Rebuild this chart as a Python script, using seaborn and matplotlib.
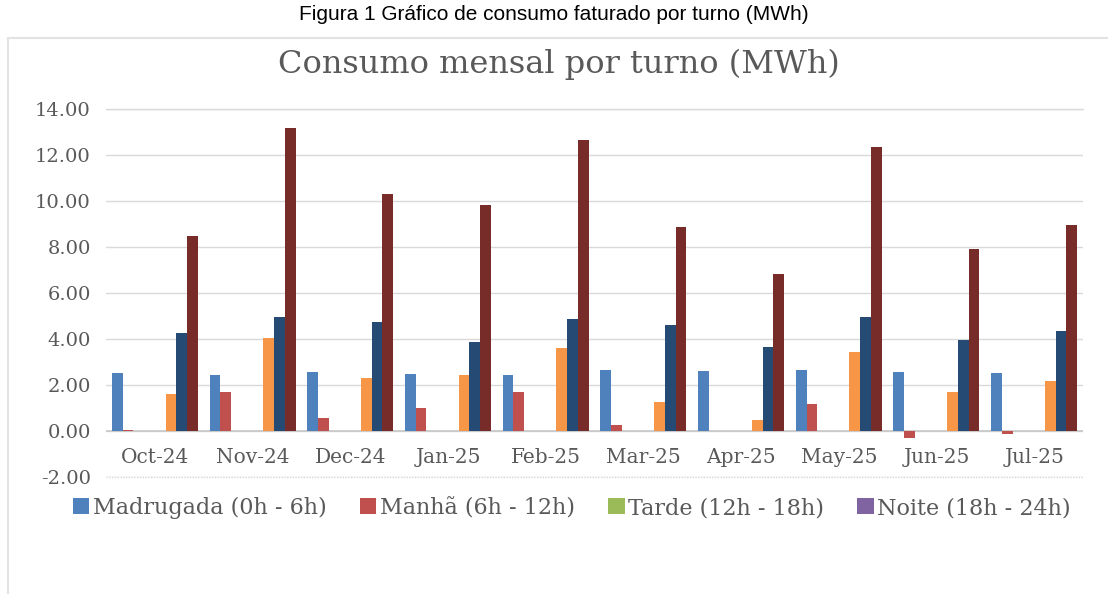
import matplotlib
matplotlib.use("Agg")
import matplotlib.pyplot as plt
from matplotlib.lines import Line2D
import seaborn as sns
import pandas as pd

# ---- data (MWh) ----
months = ["Oct-24", "Nov-24", "Dec-24", "Jan-25", "Feb-25",
          "Mar-25", "Apr-25", "May-25", "Jun-25", "Jul-25"]
series_names = ["Madrugada (0h - 6h)", "Manhã (6h - 12h)", "Tarde (12h - 18h)",
                "Noite (18h - 24h)", "Série 5", "Série 6", "Série 7", "Série 8"]
madrugada = [2.51, 2.42, 2.57, 2.48, 2.42, 2.65, 2.62, 2.65, 2.57, 2.54]
manha     = [0.04, 1.71, 0.55, 1.01, 1.71, 0.26, 0.00, 1.16, -0.32, -0.14]
tarde     = [0.00, 0.00, 0.00, 0.00, 0.00, 0.00, 0.00, 0.00, 0.00, 0.00]
noite     = [0.00, 0.00, 0.00, 0.00, 0.00, 0.00, 0.00, 0.00, 0.00, 0.00]
serie5    = [0.00, 0.00, 0.00, 0.00, 0.00, 0.00, 0.00, 0.00, 0.00, 0.00]
serie6    = [1.59, 4.03, 2.32, 2.42, 3.60, 1.27, 0.48, 3.45, 1.71, 2.19]
serie7    = [4.25, 4.97, 4.74, 3.86, 4.87, 4.61, 3.67, 4.97, 3.96, 4.36]
serie8    = [8.49, 13.16, 10.30, 9.84, 12.65, 8.88, 6.83, 12.33, 7.91, 8.96]
y_ticks = [-2, 0, 2, 4, 6, 8, 10, 12, 14]

colors = ["#4F81BD", "#C0504D", "#9BBB59", "#8064A2",
          "#4BACC6", "#F79646", "#254A73", "#772C2A"]

all_values = [madrugada, manha, tarde, noite, serie5, serie6, serie7, serie8]
rows = []
for name, vals in zip(series_names, all_values):
    for m, v in zip(months, vals):
        rows.append({"Mês": m, "Série": name, "MWh": v})
df = pd.DataFrame(rows)

sns.set_theme(style="white")
plt.rcParams["font.family"] = ["DejaVu Serif"]

W, H = 1108, 594
fig = plt.figure(figsize=(W / 100, H / 100), dpi=100)
fig.patch.set_facecolor("white")

ax = fig.add_axes([106 / W, 1 - 477 / H, (1083 - 106) / W, (477 - 109) / H])
sns.barplot(data=df, x="Mês", y="MWh", hue="Série", order=months,
            hue_order=series_names, palette=colors, saturation=1,
            width=0.88, gap=0, errorbar=None, legend=False, ax=ax,
            linewidth=0, zorder=3)

ax.set_ylim(-2, 14)
ax.set_xlim(-0.5, len(months) - 0.5)
ax.set_yticks(y_ticks)
ax.set_yticklabels([f"{t:.2f}" for t in y_ticks])
ax.set_xlabel("")
ax.set_ylabel("")
for s in ax.spines.values():
    s.set_visible(False)
ax.grid(axis="y", color="#d9d9d9", linewidth=1, zorder=0)
ax.grid(axis="x", visible=False)
ax.axhline(-2, color="#d9d9d9", linewidth=1, linestyle=(0, (1, 1)), clip_on=False, zorder=0)
ax.axhline(14, color="#d9d9d9", linewidth=1, clip_on=False, zorder=0)
ax.axhline(0, color="#c8c8c8", linewidth=1.2, zorder=2)
ax.tick_params(axis="y", length=0, pad=11, labelsize=14, labelcolor="#595959")
ax.tick_params(axis="x", length=0, pad=-21, labelsize=14.5, labelcolor="#595959")

# legend (only the first four series are listed)
handles = [ax.containers[i] for i in range(4)]
fig.legend(handles, series_names[:4], loc="center", bbox_to_anchor=(0.516, 1 - 508 / H),
           ncol=4, frameon=False, fontsize=16, labelcolor="#595959",
           handlelength=0.75, handleheight=0.75, handletextpad=0.15,
           columnspacing=1.5)

# titles
fig.text(0.5, 1 - 15 / H, "Figura 1 Gráfico de consumo faturado por turno (MWh)",
         ha="center", va="center", fontsize=15, color="black",
         family=["Liberation Sans", "DejaVu Sans"])
fig.text(559 / W, 1 - 64 / H, "Consumo mensal por turno (MWh)",
         ha="center", va="center", fontsize=23, color="#595959",
         family=["DejaVu Serif"])

# faint chart frame
fig.add_artist(Line2D([8 / W, 1], [1 - 38 / H, 1 - 38 / H],
                      transform=fig.transFigure, color="#e3e3e3", linewidth=1.5))
fig.add_artist(Line2D([8 / W, 8 / W], [0, 1 - 38 / H],
                      transform=fig.transFigure, color="#e3e3e3", linewidth=1.5))

fig.savefig("out.png", dpi=100, facecolor="white")
